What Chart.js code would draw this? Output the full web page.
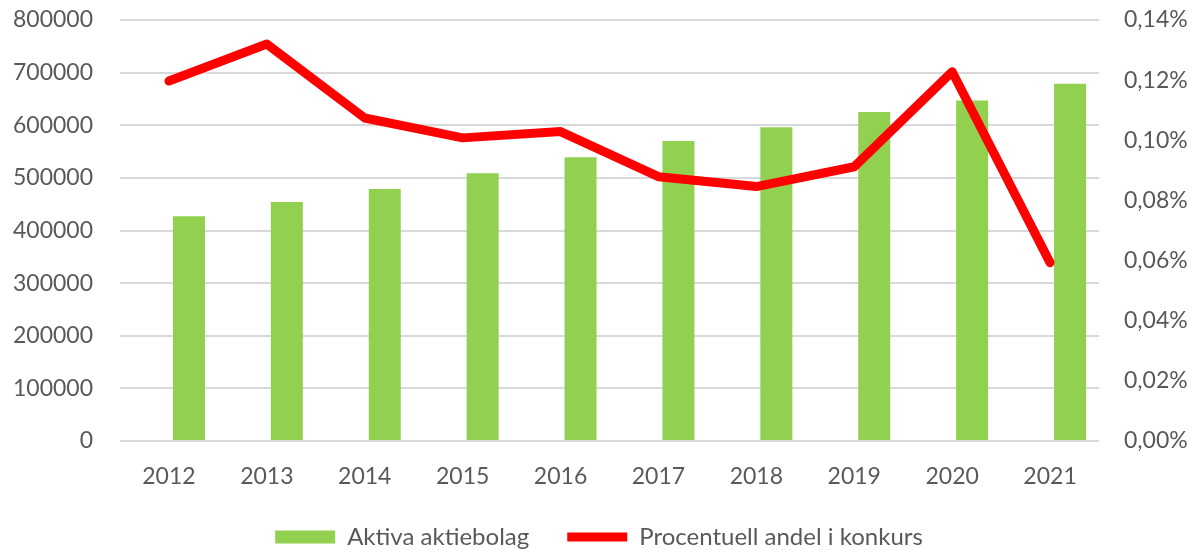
<!DOCTYPE html>
<html>
<head>
<meta charset="utf-8">
<script src="https://cdn.jsdelivr.net/npm/chart.js@4"></script>
<style>
  html, body { margin: 0; padding: 0; background: #fff; }
  #wrap { width: 1198px; height: 550px; }
</style>
</head>
<body>
<div id="wrap"><canvas id="chart"></canvas></div>
<script>
const years = ['2012', '2013', '2014', '2015', '2016', '2017', '2018', '2019', '2020', '2021'];
const aktivaAktiebolag = [427000, 454000, 479000, 509000, 539000, 570000, 596000, 625000, 647000, 679000];
const andelKonkurs = [0.1197, 0.1320, 0.1074, 0.1008, 0.1029, 0.0879, 0.0846, 0.0912, 0.1228, 0.0593];
// tom serie i första stapelplatsen (som i Excel-diagrammet)
const tomSerie = [null, null, null, null, null, null, null, null, null, null];

const textColor = '#595959';
Chart.defaults.font.family = 'Lato';
Chart.defaults.font.size = 23;
Chart.defaults.color = textColor;

// y-axlarna: fast bredd och fast topp-marginal
const fixY = (width) => (s) => {
  s.width = width;
  s.paddingTop = 20;
  s.paddingBottom = 0;
};

new Chart(document.getElementById('chart'), {
  type: 'bar',
  data: {
    labels: years,
    datasets: [
      { label: '', data: tomSerie, backgroundColor: 'rgba(0,0,0,0)', order: 1 },
      {
        label: 'Aktiva aktiebolag',
        data: aktivaAktiebolag,
        backgroundColor: '#92D050',
        borderWidth: 0,
        pointStyle: 'rect',
        order: 1
      },
      {
        type: 'line',
        label: 'Procentuell andel i konkurs',
        data: andelKonkurs,
        yAxisID: 'y1',
        borderColor: '#FF0000',
        backgroundColor: '#FF0000',
        borderWidth: 9,
        borderCapStyle: 'round',
        borderJoinStyle: 'round',
        pointRadius: 0,
        pointHoverRadius: 0,
        pointStyle: 'line',
        tension: 0,
        order: 0
      }
    ]
  },
  options: {
    responsive: true,
    maintainAspectRatio: false,
    animation: false,
    categoryPercentage: 0.817,
    barPercentage: 0.8,
    layout: { padding: 0 },
    plugins: {
      tooltip: { enabled: false },
      legend: {
        position: 'bottom',
        maxHeight: 63,
        labels: {
          usePointStyle: true,
          pointStyleWidth: 60,
          boxHeight: 13,
          padding: 38,
          color: textColor,
          font: { size: 24 },
          filter: (item) => item.text !== '',
          sort: (a, b) => a.datasetIndex - b.datasetIndex
        }
      }
    },
    scales: {
      x: {
        grid: { display: false, drawTicks: false },
        border: { display: false },
        ticks: { padding: 22 },
        afterFit: (s) => { s.height = 46; }
      },
      y: {
        position: 'left',
        min: 0,
        max: 800000,
        ticks: { stepSize: 100000, padding: 27, callback: (v) => String(v) },
        grid: { color: '#D9D9D9', lineWidth: 2, drawTicks: false },
        border: { display: false },
        afterFit: fixY(120)
      },
      y1: {
        position: 'right',
        min: 0,
        max: 0.14,
        ticks: {
          stepSize: 0.02,
          padding: 25,
          callback: (v) => v.toFixed(2).replace('.', ',') + '%'
        },
        grid: { display: false, drawTicks: false },
        border: { display: false },
        afterFit: fixY(99)
      }
    }
  }
});
</script>
</body>
</html>
